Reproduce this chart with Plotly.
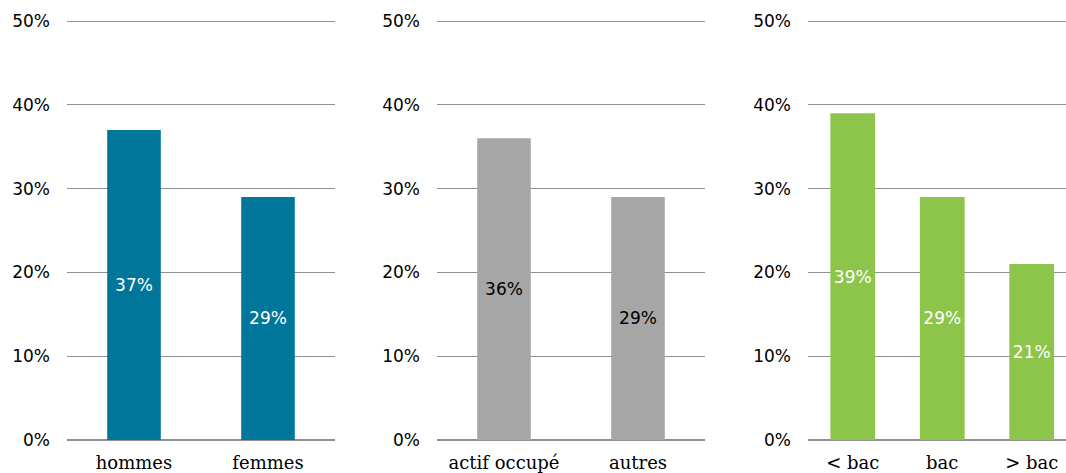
import plotly.graph_objects as go

# Share of respondents by group, three panels
sexe_labels = ["hommes", "femmes"]
sexe_values = [37, 29]

activite_labels = ["actif occupé", "autres"]
activite_values = [36, 29]

diplome_labels = ["< bac", "bac", "> bac"]
diplome_values = [39, 29, 21]

y_ticks = [0, 10, 20, 30, 40, 50]
y_ticktext = [f"{v}%" for v in y_ticks]

W, H = 1066, 473
NUM_FONT = "DejaVu Sans"
CAT_FONT = "DejaVu Serif"
GRID = "#8f8f8f"
Y_TOP = 50.15  # a little headroom so the 50% gridline is drawn

panels = [
    dict(labels=sexe_labels, values=sexe_values, color="#00769b", text="white",
         px=(67, 335), rng=[-0.5, 1.5], width=0.4),
    dict(labels=activite_labels, values=activite_values, color="#a6a6a6", text="black",
         px=(437, 705), rng=[-0.5, 1.5], width=0.4),
    dict(labels=diplome_labels, values=diplome_values, color="#8dc44a", text="white",
         px=(808, 1066), rng=[-0.5, 2.383], width=0.5),
]

fig = go.Figure()
px_per_unit = (440 - 21) / 50
top_px = 440 - Y_TOP * px_per_unit
y_dom = [(H - 440) / H, (H - top_px) / H]

for i, p in enumerate(panels, start=1):
    xa = "x" if i == 1 else f"x{i}"
    ya = "y" if i == 1 else f"y{i}"
    fig.add_trace(go.Bar(
        x=p["labels"], y=p["values"],
        xaxis=xa, yaxis=ya,
        width=p["width"],
        marker=dict(color=p["color"], line=dict(width=0)),
        text=[f"{v}%" for v in p["values"]],
        textposition="inside", insidetextanchor="middle",
        textangle=0,
        textfont=dict(family=NUM_FONT, size=17, color=p["text"]),
        hoverinfo="skip", showlegend=False,
    ))
    key = "" if i == 1 else str(i)
    fig.layout["xaxis" + key] = dict(
        domain=[p["px"][0] / W, min(p["px"][1] / W, 1.0)],
        anchor=ya, type="category", range=p["rng"],
        showgrid=False, showline=False, zeroline=False, ticks="",
        tickfont=dict(family=CAT_FONT, size=18, color="black"),
        ticklabelstandoff=10, automargin=False, fixedrange=True,
    )
    fig.layout["yaxis" + key] = dict(
        domain=y_dom, anchor=xa, range=[0, Y_TOP],
        tickvals=y_ticks, ticktext=y_ticktext,
        showgrid=True, gridcolor=GRID, gridwidth=1.2,
        zeroline=True, zerolinecolor=GRID, zerolinewidth=1.8,
        showline=False, ticks="",
        tickfont=dict(family=NUM_FONT, size=17, color="black"),
        ticklabelstandoff=16, automargin=False, fixedrange=True,
    )

fig.update_layout(
    width=W, height=H,
    margin=dict(l=0, r=0, t=0, b=0),
    paper_bgcolor="white", plot_bgcolor="white",
    uniformtext=dict(mode=False),
)

fig.write_html("out.html", config={"displayModeBar": False})
